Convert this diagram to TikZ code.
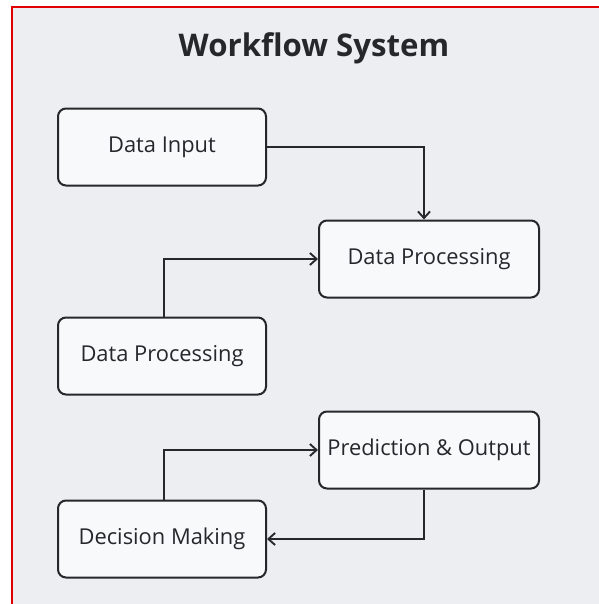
\documentclass[tikz,border=0pt]{standalone}
\usepackage{fontspec}
\setmainfont{Open Sans}
\usepackage{tikz}
\usetikzlibrary{arrows.meta}

\definecolor{panelbg}{HTML}{ECEEF1}
\definecolor{boxfill}{HTML}{F8F9FA}
\definecolor{ink}{HTML}{25272A}
\definecolor{frame}{HTML}{E00000}

\begin{document}
\begin{tikzpicture}[x=0.75pt,y=-0.75pt,
    stage/.style={draw=ink, fill=boxfill, line width=1.5pt, rounded corners=6pt,
                  minimum width=156pt, minimum height=57.75pt, font=\fontsize{16.4}{19}\selectfont, text=ink},
    widestage/.style={stage, minimum width=165pt},
    link/.style={draw=ink, line width=1.4pt, -{Straight Barb[length=5pt,width=9pt]}}]
    \useasboundingbox (0,0) rectangle (599,604);
    \fill [white] (0,0) rectangle (599,604);
    \fill [panelbg] (12,7) rectangle (599,604);
    \draw [frame, line width=1.6pt] (12,604) -- (12,7) -- (599,7);

    \node [font=\bfseries\fontsize{23.4}{28}\selectfont, text=ink] (title) at (314,48) {Workflow System};

    \node [stage]     (input)   at (162,147) {Data Input};
    \node [widestage] (procA)   at (429,259) {Data Processing};
    \node [stage]     (procB)   at (162,356) {Data Processing};
    \node [widestage] (predict) at (429,450) {Prediction \& Output};
    \node [stage]     (decide)  at (162,539) {Decision Making};

    \draw [link] (input.east) -| ([xshift=-3.75pt]procA.north);
    \draw [link] ([xshift=1.5pt]procB.north) |- (procA.west);
    \draw [link] ([xshift=1.5pt]decide.north) |- (predict.west);
    \draw [link] ([xshift=-3.75pt]predict.south) |- (decide.east);
\end{tikzpicture}
\end{document}
